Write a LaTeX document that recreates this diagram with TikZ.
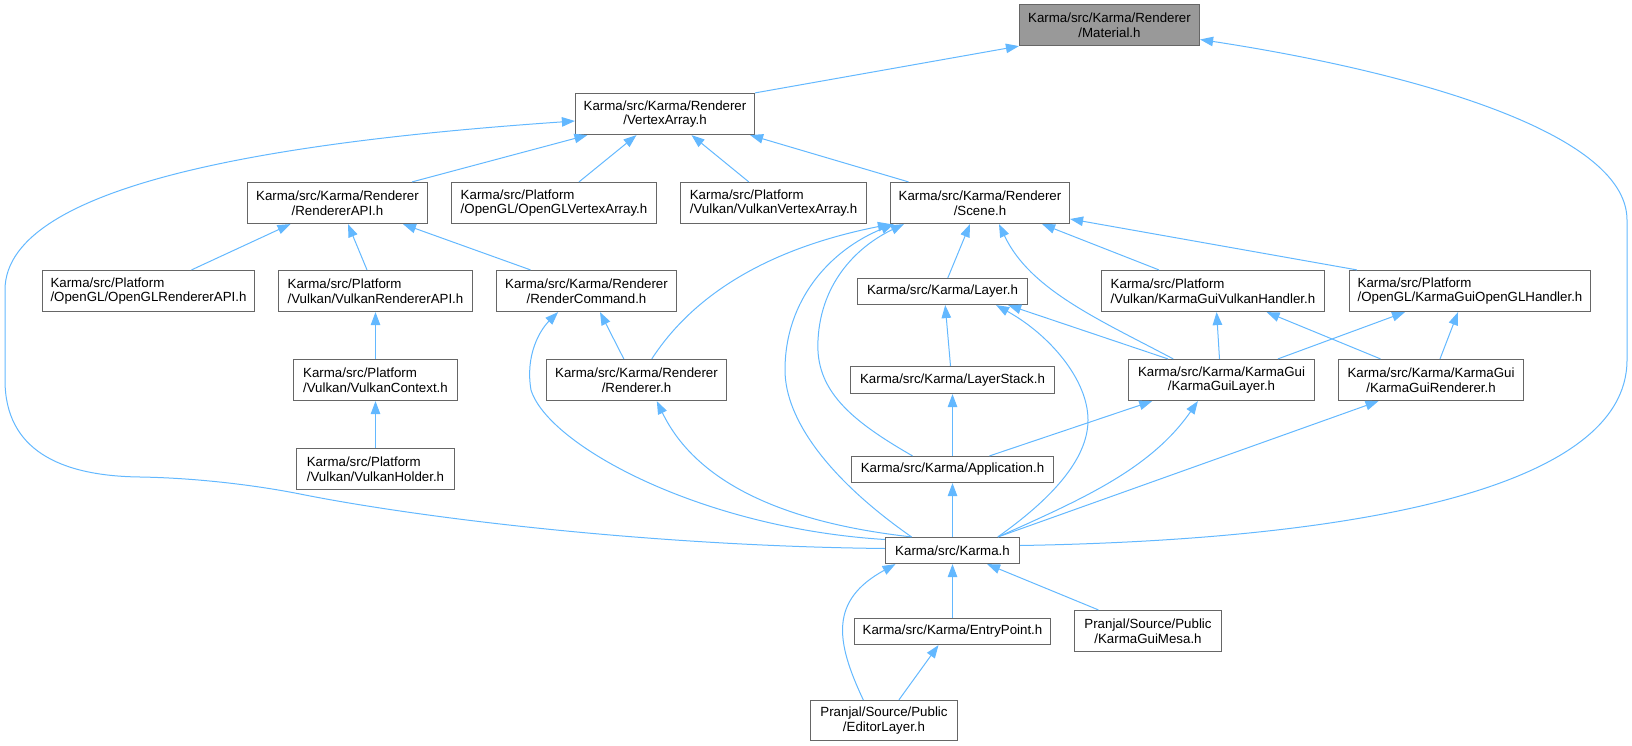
\documentclass[tikz,border=0pt]{standalone}
\usepackage{fontspec}
\setmainfont{Liberation Sans}
\usetikzlibrary{arrows.meta}
\definecolor{edgeblue}{HTML}{63B8FF}
\definecolor{boxborder}{HTML}{666666}
\definecolor{matfill}{HTML}{999999}
\begin{document}
\begin{tikzpicture}[x=1pt,y=-1pt,
  box/.style={draw=boxborder, line width=1.2pt, fill=white, inner sep=0pt,
    font=\fontsize{13.3}{14.6}\selectfont, anchor=center},
  two/.style={box, minimum height=41pt},
  one/.style={box, minimum height=26pt},
  dep/.style={draw=edgeblue, line width=1pt, -{Triangle[length=13pt,width=9.5pt]}}]
\useasboundingbox (0,0) rectangle (1632,746);

% nodes
\node[two, fill=matfill, minimum width=180pt, align=center] (mat) at (1109.5,25) {Karma/src/Karma/Renderer\\/Material.h};
\node[two, minimum width=179pt, align=center] (va) at (665,114) {Karma/src/Karma/Renderer\\/VertexArray.h};
\node[two, minimum width=180pt, align=center] (rapi) at (337.5,203) {Karma/src/Karma/Renderer\\/RendererAPI.h};
\node[two, minimum width=205pt, align=left] (oglva) at (554,203) {Karma/src/Platform\\/OpenGL/OpenGLVertexArray.h};
\node[two, minimum width=186pt, align=left] (vkva) at (773.5,203) {Karma/src/Platform\\/Vulkan/VulkanVertexArray.h};
\node[two, minimum width=179pt, align=center] (scene) at (980,203) {Karma/src/Karma/Renderer\\/Scene.h};
\node[two, minimum width=212pt, align=left] (oglrapi) at (148.5,291) {Karma/src/Platform\\/OpenGL/OpenGLRendererAPI.h};
\node[two, minimum width=194pt, align=left] (vkrapi) at (375.5,291) {Karma/src/Platform\\/Vulkan/VulkanRendererAPI.h};
\node[two, minimum width=180pt, align=center] (rcmd) at (586.5,291) {Karma/src/Karma/Renderer\\/RenderCommand.h};
\node[one, minimum width=170pt] (layer) at (942.5,291.5) {Karma/src/Karma/Layer.h};
\node[two, minimum width=223pt, align=left] (kgvh) at (1213,291) {Karma/src/Platform\\/Vulkan/KarmaGuiVulkanHandler.h};
\node[two, minimum width=241pt, align=left] (kgoh) at (1470,291) {Karma/src/Platform\\/OpenGL/KarmaGuiOpenGLHandler.h};
\node[two, minimum width=164pt, align=left] (vkctx) at (375.5,380) {Karma/src/Platform\\/Vulkan/VulkanContext.h};
\node[two, minimum width=180pt, align=center] (rend) at (636.5,380) {Karma/src/Karma/Renderer\\/Renderer.h};
\node[one, minimum width=204pt, minimum height=27pt] (lstack) at (952.5,380) {Karma/src/Karma/LayerStack.h};
\node[two, minimum width=186pt, align=center] (kglayer) at (1221.5,380) {Karma/src/Karma/KarmaGui\\/KarmaGuiLayer.h};
\node[two, minimum width=185pt, align=center] (kgrend) at (1431,380) {Karma/src/Karma/KarmaGui\\/KarmaGuiRenderer.h};
\node[two, minimum width=158pt, align=left] (vkholder) at (375.5,469) {Karma/src/Platform\\/Vulkan/VulkanHolder.h};
\node[one, minimum width=202pt] (app) at (952.5,469.5) {Karma/src/Karma/Application.h};
\node[one, minimum width=134pt] (karma) at (952.5,550.5) {Karma/src/Karma.h};
\node[one, minimum width=196pt] (entry) at (952.5,631.5) {Karma/src/Karma/EntryPoint.h};
\node[two, minimum width=147pt, align=center] (mesa) at (1148,631) {Pranjal/Source/Public\\/KarmaGuiMesa.h};
\node[two, minimum width=147pt, minimum height=40pt, align=center] (editor) at (884,720.5) {Pranjal/Source/Public\\/EditorLayer.h};

% edges
\draw[dep] (va.north east) -- (mat.south west);
\draw[dep] ([yshift=5pt]karma.east) .. controls (1350,540) and (1627,490) .. (1627,360) -- (1627,220) .. controls (1627,130) and (1400,70) .. ([yshift=-14.5pt]mat.east);
\draw[dep] ([xshift=-16pt]rapi.north east) -- ([xshift=12.5pt]va.south west);
\draw[dep] ([xshift=25pt]oglva.north) -- ([xshift=-28.5pt]va.south);
\draw[dep] ([xshift=-24.7pt]vkva.north) -- ([xshift=26.5pt]va.south);
\draw[dep] ([xshift=18.6pt]scene.north west) -- ([xshift=-5pt]va.south east);
\draw[dep] ([yshift=2pt]karma.west) .. controls (650,546) and (420,518) .. (300,494) .. controls (260,486) and (200,478) .. (140,477) .. controls (60,476) and (5,450) .. (5,380) -- (5,290) .. controls (5,180) and (300,140) .. ([yshift=-7pt]va.west);
\draw[dep] ([xshift=43pt]oglrapi.north) -- ([xshift=-47pt]rapi.south);
\draw[dep] ([xshift=-8.5pt]vkrapi.north) -- ([xshift=10.5pt]rapi.south);
\draw[dep] ([xshift=-56pt]rcmd.north) -- ([xshift=65.5pt]rapi.south);
\draw[dep] (vkctx.north) -- (vkrapi.south);
\draw[dep] (vkholder.north) -- (vkctx.south);
\draw[dep] ([xshift=-12.7pt]rend.north) -- ([xshift=13.5pt]rcmd.south);
\draw[dep] ([yshift=11pt]karma.west) .. controls (700,528) and (548,445) .. (531,390) .. controls (525,355) and (540,330) .. ([xshift=-28.4pt]rcmd.south);
\draw[dep] ([xshift=15.3pt]rend.north) .. controls (690,300) and (760,250) .. ([xshift=1pt]scene.south west);
\draw[dep] ([xshift=-41pt]karma.north) .. controls (830,480) and (785,420) .. (785,370) .. controls (785,300) and (830,250) .. ([xshift=4pt]scene.south west);
\draw[dep] ([xshift=-40pt]app.north) .. controls (850,420) and (815,390) .. (818,340) .. controls (821,280) and (860,245) .. ([xshift=14pt]scene.south west);
\draw[dep] ([xshift=5.3pt]layer.north) -- ([xshift=-10pt]scene.south);
\draw[dep] ([xshift=45.3pt]kglayer.north west) .. controls (1100,320) and (1030,290) .. ([xshift=19pt]scene.south);
\draw[dep] ([xshift=58pt]kgvh.north west) -- ([xshift=-28pt]scene.south east);
\draw[dep] ([xshift=8pt]kgoh.north west) -- ([yshift=-16pt]scene.east);
\draw[dep] ([xshift=-41pt]karma.north) .. controls (760,520) and (690,470) .. ([xshift=20.3pt]rend.south);
\draw[dep] ([xshift=-2pt]lstack.north) -- ([xshift=2.7pt]layer.south);
\draw[dep] ([xshift=40pt]kglayer.north west) -- ([xshift=-20pt]layer.south east);
\draw[dep] ([xshift=-22.3pt]karma.north east) .. controls (1050,500) and (1088,460) .. (1088,420) .. controls (1088,380) and (1050,335) .. ([xshift=-32pt]layer.south east);
\draw[dep] ([xshift=-2pt]kglayer.north) -- ([xshift=3.6pt]kgvh.south);
\draw[dep] ([xshift=42.6pt]kgrend.north west) -- ([xshift=53.6pt]kgvh.south);
\draw[dep] ([xshift=56.4pt]kglayer.north) -- ([xshift=-65pt]kgoh.south);
\draw[dep] ([xshift=9pt]kgrend.north) -- ([xshift=-12pt]kgoh.south);
\draw[dep] (app.north) -- (lstack.south);
\draw[dep] ([xshift=37pt]app.north) -- ([xshift=24.3pt]kglayer.south west);
\draw[dep] (karma.north) -- (app.south);
\draw[dep] ([xshift=-22pt]karma.north east) .. controls (1080,500) and (1150,470) .. ([xshift=-23.6pt]kglayer.south);
\draw[dep] ([xshift=-22pt]karma.north east) -- ([xshift=40.6pt]kgrend.south west);
\draw[dep] (entry.north) -- (karma.south);
\draw[dep] ([xshift=24.5pt]mesa.north west) -- ([xshift=-33pt]karma.south east);
\draw[dep] ([xshift=53.4pt]editor.north west) .. controls (835,640) and (830,600) .. ([xshift=10.6pt]karma.south west);
\draw[dep] ([xshift=-59.2pt]editor.north east) -- ([xshift=-14pt]entry.south);
\end{tikzpicture}
\end{document}
